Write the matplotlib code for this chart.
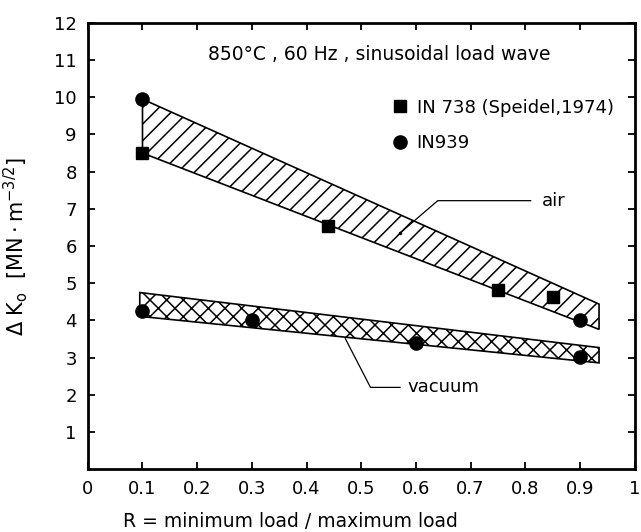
import numpy as np
import matplotlib.pyplot as plt
from matplotlib.patches import Polygon

plt.rcParams['font.family'] = ['DejaVu Sans']
plt.rcParams['mathtext.fontset'] = 'dejavusans'
plt.rcParams['hatch.linewidth'] = 1.1

# data
in939_r = [0.1, 0.1, 0.3, 0.6, 0.9, 0.9]
in939_dk = [9.95, 4.25, 4.0, 3.4, 4.0, 3.03]
in738_r = [0.1, 0.44, 0.75, 0.85]
in738_dk = [8.5, 6.53, 4.82, 4.64]

# scatter bands (air and vacuum)
air_r = [0.1, 0.935, 0.935, 0.1]
air_dk = [9.95, 4.44, 3.76, 8.5]
vac_r = [0.095, 0.935, 0.935, 0.095]
vac_dk = [4.75, 3.27, 2.86, 4.11]

xticks = [0, 0.1, 0.2, 0.3, 0.4, 0.5, 0.6, 0.7, 0.8, 0.9, 1]
xtick_labels = ['0', '0.1', '0.2', '0.3', '0.4', '0.5', '0.6', '0.7', '0.8', '0.9', '1']
yticks = list(range(1, 13))

fig = plt.figure(figsize=(6.41, 5.32), dpi=100)
ax = fig.add_axes([0.137, 0.118, 0.853, 0.839])

ax.add_patch(Polygon(np.column_stack([air_r, air_dk]), closed=True,
                     facecolor='white', edgecolor='black', hatch='//', lw=1.2))
ax.add_patch(Polygon(np.column_stack([vac_r, vac_dk]), closed=True,
                     facecolor='white', edgecolor='black', hatch='xx', lw=1.2))

sq, = ax.plot(in738_r, in738_dk, 's', color='black', ms=8.5, ls='none',
              label='IN 738 (Speidel,1974)', zorder=5)
ci, = ax.plot(in939_r, in939_dk, 'o', color='black', ms=9.5, ls='none',
              label='IN939', zorder=5)

# leader lines
ax.plot([0.571, 0.64, 0.81], [6.35, 7.22, 7.22], color='black', lw=0.9)
ax.plot([0.571], [6.35], '.', color='black', ms=3)
ax.text(0.83, 7.22, 'air', fontsize=13, va='center', ha='left')
ax.plot([0.471, 0.517, 0.571], [3.51, 2.2, 2.2], color='black', lw=0.9)
ax.text(0.584, 2.2, 'vacuum', fontsize=13, va='center', ha='left')

ax.text(0.22, 11.15, '850°C , 60 Hz , sinusoidal load wave', fontsize=13.5,
        va='center', ha='left')

ax.legend(handles=[sq, ci], loc='upper left', bbox_to_anchor=(0.555, 0.83),
          frameon=False, fontsize=13, handlelength=1.0, handletextpad=0.4,
          labelspacing=0.95, borderpad=0, borderaxespad=0)

ax.set_xlim(0, 1)
ax.set_ylim(0, 12)
ax.set_xticks(xticks)
ax.set_xticklabels(xtick_labels)
ax.set_yticks(yticks)
ax.tick_params(direction='in', length=5, width=1.3, top=True, right=True,
               labelsize=13, pad=8)
for s in ax.spines.values():
    s.set_linewidth(2.0)

ax.set_xlabel('R = minimum load / maximum load', fontsize=13.5)
ax.xaxis.set_label_coords(0.37, -0.095)
ax.set_ylabel(r'$\Delta$ K$_\mathrm{o}$  $\left[\mathrm{MN\cdot m^{-3/2}}\right]$',
              fontsize=15)
ax.yaxis.set_label_coords(-0.105, 0.5)

fig.savefig('out.png', dpi=100)
